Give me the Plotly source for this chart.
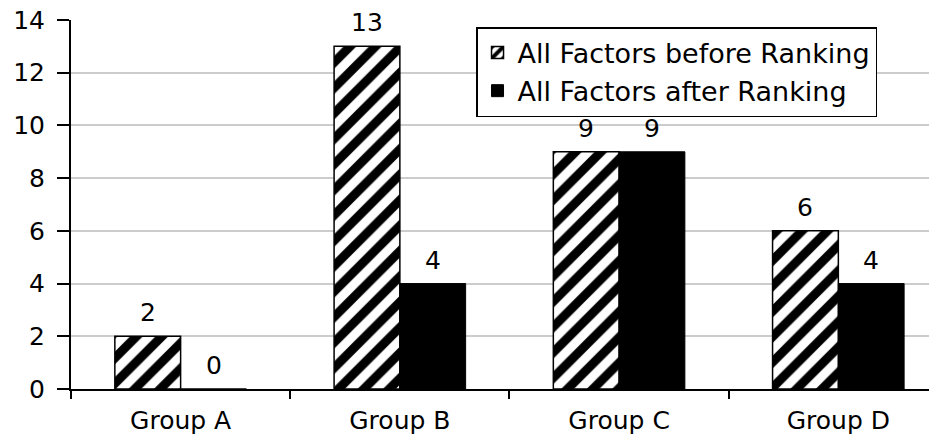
import plotly.graph_objects as go

categories = ["Group A", "Group B", "Group C", "Group D"]
before_ranking = [2, 13, 9, 6]
after_ranking = [0, 4, 9, 4]
series_names = ["All Factors before Ranking", "All Factors after Ranking"]
y_ticks = [0, 2, 4, 6, 8, 10, 12, 14]

FONT = "DejaVu Sans"

fig = go.Figure()
fig.add_trace(go.Bar(
    x=categories, y=before_ranking, name=series_names[0],
    marker=dict(color="white",
                pattern=dict(shape="/", fgcolor="black", bgcolor="white", fgopacity=1,
                             size=18, solidity=0.5),
                line=dict(color="black", width=1.5)),
))
fig.add_trace(go.Bar(
    x=categories, y=after_ranking, name=series_names[1],
    marker=dict(color="black", line=dict(color="black", width=1)),
))

bar_w = 0.3
annotations = []
for series, off in ((before_ranking, -bar_w / 2), (after_ranking, bar_w / 2)):
    for i, v in enumerate(series):
        annotations.append(dict(
            x=i + off, y=v, xref="x", yref="y", text=str(v), showarrow=False,
            yanchor="bottom", xanchor="center", yshift=8, borderpad=0,
            font=dict(family=FONT, size=25, color="black"),
        ))

# page body has an 8px margin, so the figure is sized/offset accordingly
fig.update_layout(
    width=929, height=429,
    margin=dict(l=63, r=0, t=12, b=48, autoexpand=False),
    paper_bgcolor="white", plot_bgcolor="white",
    barmode="group", bargap=0.4, bargroupgap=0,
    font=dict(family=FONT, size=25, color="black"),
    showlegend=True,
    legend=dict(
        x=0.4677, y=0.981, xanchor="left", yanchor="top",
        bgcolor="white", bordercolor="black", borderwidth=1.5,
        font=dict(family=FONT, size=27, color="black"),
        traceorder="normal", tracegroupgap=0,
    ),
    annotations=annotations,
)
fig.update_xaxes(
    type="category", range=[-0.5, 3.45], automargin=False,
    showline=True, linecolor="black", linewidth=2,
    ticks="outside", tickson="boundaries", ticklen=8, tickcolor="black", tickwidth=2,
    showgrid=False, ticklabelstandoff=8, ticklabeloverflow="allow",
    tickfont=dict(family=FONT, size=25, color="black"),
)
fig.update_yaxes(
    range=[0, 14], tickvals=y_ticks, automargin=False,
    showline=True, linecolor="black", linewidth=2,
    ticks="outside", ticklen=12, tickcolor="black", tickwidth=2,
    showgrid=True, gridcolor="#cccccc", gridwidth=1.5,
    zeroline=False, ticklabelstandoff=7, ticklabeloverflow="allow",
    tickfont=dict(family=FONT, size=25, color="black"),
)

fig.write_html("out.html")
